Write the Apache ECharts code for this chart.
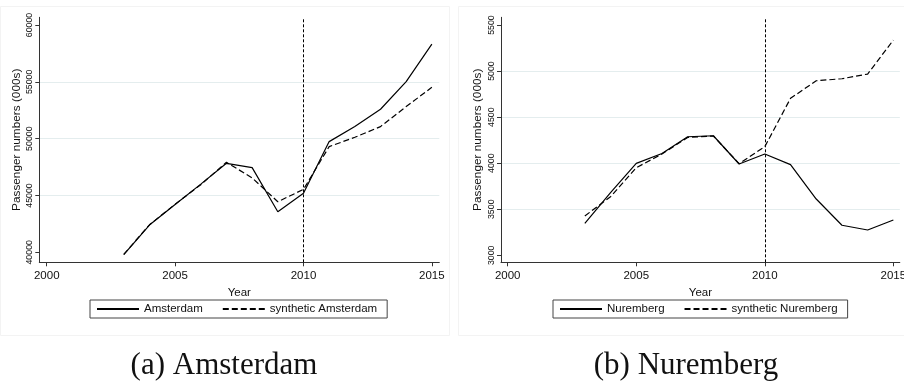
<!DOCTYPE html>
<html>
<head>
<meta charset="utf-8">
<script src="https://cdn.jsdelivr.net/npm/echarts@6/dist/echarts.min.js"></script>
<style>
  html, body { margin: 0; padding: 0; background: #fff; }
  #chart { width: 904px; height: 383px; }
</style>
</head>
<body>
<div id="chart"></div>
<script>
// Observation years
const years = [2003, 2004, 2005, 2006, 2007, 2008, 2009, 2010, 2011, 2012, 2013, 2014, 2015];

// Passenger numbers (000s): observed airport vs. its synthetic control
const amsterdam      = [39800, 42400, 44200, 46000, 47830, 47450, 43570, 45190, 49740, 51060, 52590, 55020, 58310];
const synthAmsterdam = [39820, 42420, 44230, 45950, 47920, 46550, 44450, 45540, 49300, 50120, 51060, 52820, 54520];
const nuremberg      = [3347, 3680, 3998, 4105, 4287, 4298, 3991, 4100, 3984, 3611, 3326, 3275, 3383];
const synthNuremberg = [3427, 3636, 3951, 4100, 4280, 4295, 3995, 4179, 4704, 4895, 4917, 4968, 5337];

// Axis ticks
const yearTicks = [2000, 2005, 2010, 2015];
const amsTicks  = [40000, 45000, 50000, 55000, 60000];
const nurTicks  = [3000, 3500, 4000, 4500, 5000, 5500];

// Year of the intervention (vertical reference line)
const treatmentYear = 2010;

const SANS = '"Liberation Sans", Arial, sans-serif';
const INK = '#111';
const plain = v => String(v);

function pairs(xs, ys) { return xs.map((x, i) => [x, ys[i]]); }

function xAxisFor(gridIndex, min, max) {
  return {
    type: 'value', gridIndex, min, max, splitNumber: 3,
    name: 'Year', nameLocation: 'middle', nameGap: 19,
    nameTextStyle: { fontFamily: SANS, fontSize: 11.5, color: INK },
    axisLine: { show: true, lineStyle: { color: '#333', width: 1 } },
    axisTick: { show: true, inside: false, length: 4, customValues: yearTicks, lineStyle: { color: '#333' } },
    axisLabel: { customValues: yearTicks, formatter: plain, margin: 8, fontFamily: SANS, fontSize: 11.5, color: INK },
    splitLine: { show: false }
  };
}

function yAxisFor(gridIndex, min, max, ticks) {
  return {
    type: 'value', gridIndex, min, max, splitNumber: 4,
    name: 'Passenger numbers (000s)', nameLocation: 'middle', nameRotate: 90, nameGap: 17,
    nameTextStyle: { fontFamily: SANS, fontSize: 11.8, color: INK },
    axisLine: { show: true, lineStyle: { color: '#333', width: 1 } },
    axisTick: { show: true, inside: false, length: 4, customValues: ticks, lineStyle: { color: '#333' } },
    axisLabel: { customValues: ticks, formatter: plain, rotate: 90, margin: 5, fontFamily: SANS, fontSize: 8.8, color: INK },
    splitLine: { show: true, showMinLine: false, showMaxLine: false, lineStyle: { color: '#e4edee', width: 1 } }
  };
}

function lineSeries(name, data, idx, dashed, withRef) {
  const s = {
    type: 'line', name, data, xAxisIndex: idx, yAxisIndex: idx,
    symbol: 'none', smooth: false, silent: true, animation: false,
    lineStyle: { color: '#000', width: 1.2, type: dashed ? [6, 3] : 'solid' },
    itemStyle: { color: '#000' }
  };
  if (withRef) {
    s.markLine = {
      silent: true, symbol: 'none', animation: false,
      label: { show: false },
      lineStyle: { color: '#000', width: 1, type: [3, 2] },
      data: [{ xAxis: treatmentYear }]
    };
  }
  return s;
}

function legendFor(left, names) {
  return {
    data: names, left, top: 300, orient: 'horizontal',
    itemWidth: 42, itemHeight: 14, itemGap: 19,
    padding: [3, 10, 3, 6],
    borderColor: '#444', borderWidth: 1, backgroundColor: '#fff',
    itemStyle: { opacity: 0 },
    textStyle: { fontFamily: SANS, fontSize: 11.5, color: INK },
    selectedMode: false
  };
}

const chart = echarts.init(document.getElementById('chart'), null, { renderer: 'canvas' });
chart.setOption({
  animation: false,
  backgroundColor: '#fff',
  grid: [
    { left: 39.3, top: 17.3, width: 400, height: 245, outerBoundsMode: 'none', containLabel: false },
    { left: 501, top: 17.3, width: 398.8, height: 245, outerBoundsMode: 'none', containLabel: false }
  ],
  xAxis: [
    xAxisFor(0, 1999.71, 2015.29),
    xAxisFor(1, 1999.74, 2015.25)
  ],
  yAxis: [
    yAxisFor(0, 39120, 60678, amsTicks),
    yAxisFor(1, 2924, 5584, nurTicks)
  ],
  legend: [
    legendFor(90, ['Amsterdam', 'synthetic Amsterdam']),
    legendFor(553, ['Nuremberg', 'synthetic Nuremberg'])
  ],
  series: [
    lineSeries('Amsterdam', pairs(years, amsterdam), 0, false, true),
    lineSeries('synthetic Amsterdam', pairs(years, synthAmsterdam), 0, true, false),
    lineSeries('Nuremberg', pairs(years, nuremberg), 1, false, true),
    lineSeries('synthetic Nuremberg', pairs(years, synthNuremberg), 1, true, false)
  ],
  graphic: [
    { type: 'rect', silent: true, z: -10, shape: { x: 0.5, y: 6.5, width: 449, height: 329 },
      style: { fill: 'none', stroke: '#f3f3f3', lineWidth: 1 } },
    { type: 'rect', silent: true, z: -10, shape: { x: 458.5, y: 6.5, width: 460, height: 329 },
      style: { fill: 'none', stroke: '#f3f3f3', lineWidth: 1 } },
    { type: 'text', x: 224, y: 366, silent: true,
      style: { text: '(a) Amsterdam', font: '31px "Liberation Serif", "Times New Roman", serif', fill: '#111', align: 'center', verticalAlign: 'middle' } },
    { type: 'text', x: 686, y: 366, silent: true,
      style: { text: '(b) Nuremberg', font: '31px "Liberation Serif", "Times New Roman", serif', fill: '#111', align: 'center', verticalAlign: 'middle' } }
  ]
});
</script>
</body>
</html>
